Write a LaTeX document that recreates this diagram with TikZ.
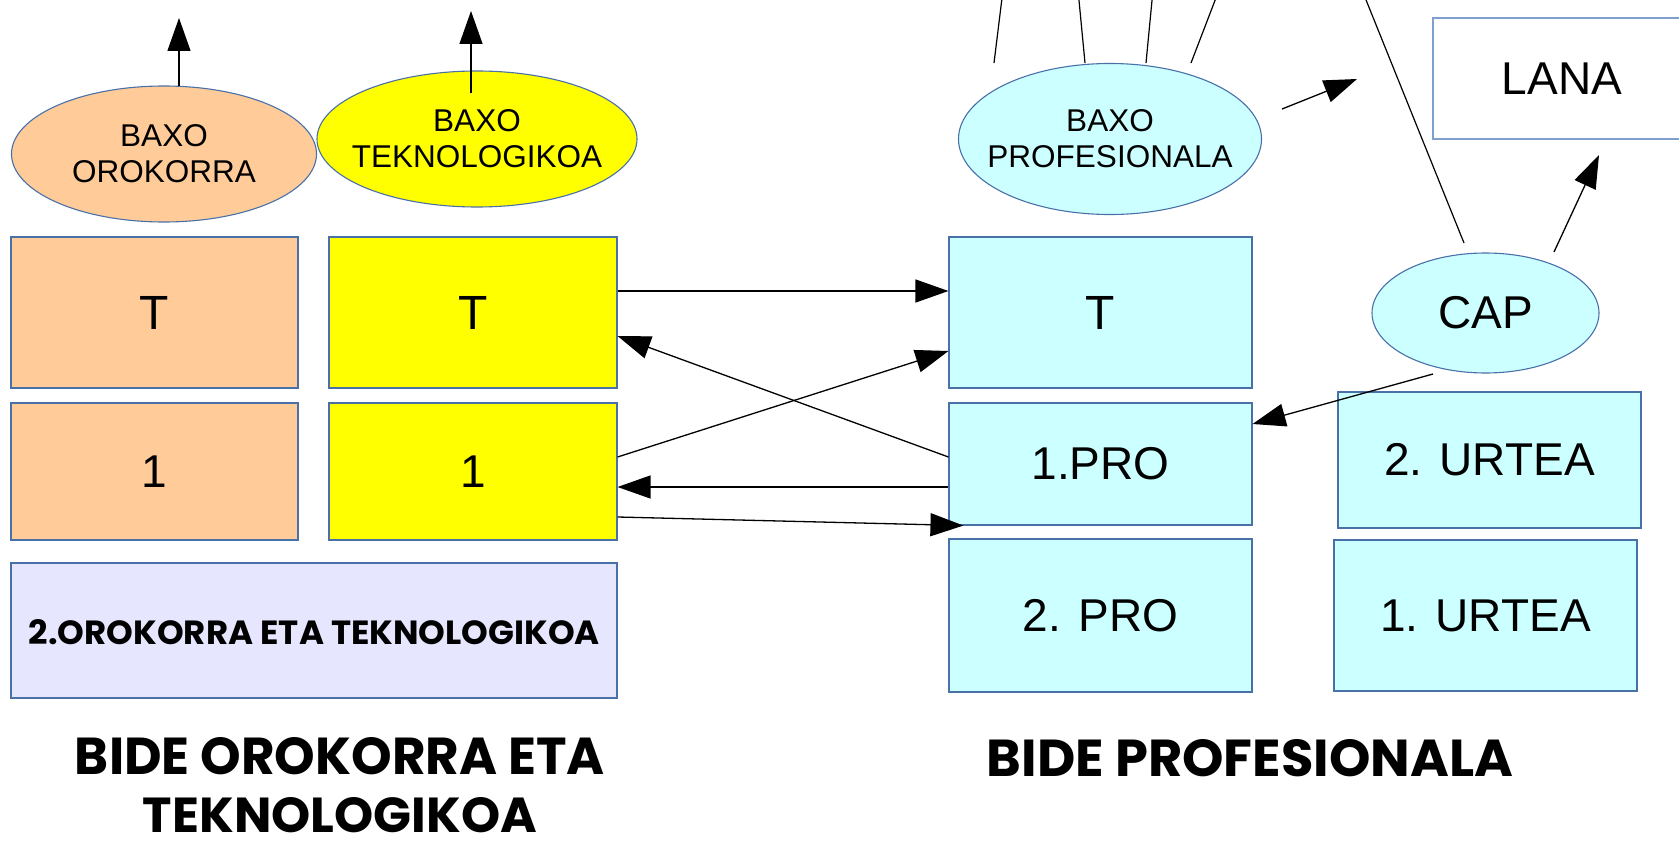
\documentclass[tikz,border=0pt]{standalone}
\usepackage{fontspec}
\usepackage{graphicx}
\setmainfont{Liberation Sans}
\newfontfamily\comicf{Poppins}
\usetikzlibrary{shapes.geometric,arrows.meta}
\definecolor{peach}{HTML}{FFCC99}
\definecolor{yel}{HTML}{FFFF00}
\definecolor{cyanl}{HTML}{CCFFFF}
\definecolor{lav}{HTML}{E6E6FF}
\definecolor{edge}{HTML}{4A70A8}
\definecolor{edgel}{HTML}{7F9FCC}
\begin{document}
\begin{tikzpicture}[x=1pt,y=-1pt,
  box/.style={draw=edge, line width=1.1pt, rectangle, inner sep=0pt},
  ell/.style={draw=edge, line width=1.1pt, ellipse, inner sep=0pt},
  big/.style={font=\fontsize{46}{50}\selectfont},
  bigT/.style={font=\fontsize{48}{50}\selectfont},
  small/.style={font=\fontsize{31.5}{36}\selectfont, align=center},
  conn/.style={line width=1.3pt, -{Triangle[length=33pt,width=23pt]}},
  plainline/.style={line width=1.2pt},
  title/.style={inner sep=0pt},
]
\useasboundingbox (0,0) rectangle (1679,843);
\clip (0,0) rectangle (1679,843);
\fill[white] (0,0) rectangle (1679,843);

% left column
\node[ell, fill=peach, minimum width=305pt, minimum height=136pt] (eo) at (164,154) {};
\node[small] at (eo.center) {BAXO\\OROKORRA};
\node[ell, fill=yel, minimum width=320pt, minimum height=136pt] (et) at (477,139) {};
\node[small] at (et.center) {BAXO\\TEKNOLOGIKOA};

\node[box, fill=peach, minimum width=287pt, minimum height=151pt, bigT] (oT) at (154.5,312.5) {T};
\node[box, fill=peach, minimum width=287pt, minimum height=137pt, big] (o1) at (154.5,471.5) {1};
\node[box, fill=yel, minimum width=288pt, minimum height=151pt, bigT] (tT) at (473,312.5) {T};
\node[box, fill=yel, minimum width=288pt, minimum height=137pt, big] (t1) at (473,471.5) {1};
\node[box, fill=lav, minimum width=606pt, minimum height=135pt] (ot2) at (314,630.5) {};
\node[title] (ot2t) at (314.5,632) {\resizebox{571pt}{25pt}{\comicf\bfseries 2.OROKORRA ETA TEKNOLOGIKOA}};

% right column
\node[ell, fill=cyanl, minimum width=303pt, minimum height=151pt] (ep) at (1110,139) {};
\node[small] at (ep.center) {BAXO\\PROFESIONALA};
\node[box, fill=cyanl, minimum width=303pt, minimum height=151pt, bigT] (pT) at (1100.5,312.5) {T};
\node[box, fill=cyanl, minimum width=303pt, minimum height=122pt, big] (p1) at (1100.5,464) {1.PRO};
\node[box, fill=cyanl, minimum width=303pt, minimum height=153pt, big] (p2) at (1100.5,615.5) {2. PRO};
\node[ell, fill=cyanl, minimum width=227pt, minimum height=120pt, big] (cap) at (1485.5,313) {CAP};
\node[box, fill=cyanl, minimum width=303pt, minimum height=136pt, big] (u2) at (1489.5,460) {2. URTEA};
\node[box, fill=cyanl, minimum width=303pt, minimum height=151pt, big] (u1) at (1485.5,615.5) {1. URTEA};
\node[box, draw=edgel, fill=white, minimum width=258pt, minimum height=121pt] (lana) at (1562,78.5) {};
\node[big] at (1562,79) {LANA};

% titles
\node[title] (t1a) at (340,756) {\resizebox{530pt}{37pt}{\comicf\bfseries BIDE OROKORRA ETA}};
\node[title] (t1b) at (340,815) {\resizebox{394pt}{35pt}{\comicf\bfseries TEKNOLOGIKOA}};
\node[title] (t2a) at (1250,758) {\resizebox{526pt}{37pt}{\comicf\bfseries BIDE PROFESIONALA}};

% free ends
\coordinate (oup) at (179,18);
\coordinate (ostart) at (179,86);
\coordinate (tup) at (471,11);
\coordinate (tstart) at (471,93);
\coordinate (l1a) at (994,63);  \coordinate (l1b) at (1003,-10);
\coordinate (l2a) at (1085,63); \coordinate (l2b) at (1078,-10);
\coordinate (l3a) at (1146,63); \coordinate (l3b) at (1153,-10);
\coordinate (l4a) at (1191,63); \coordinate (l4b) at (1219,-10);
\coordinate (l5a) at (1464,243); \coordinate (l5b) at (1362,-10);
\coordinate (pa) at (1282,109); \coordinate (pb) at (1357,79);
\coordinate (ca) at (1554,252); \coordinate (cb) at (1599,155);
\coordinate (cc) at (1433,374);

\draw[conn] (ostart) -- (oup);
\draw[conn] (tstart) -- (tup);
\draw[plainline] (l1a) -- (l1b);
\draw[plainline] (l2a) -- (l2b);
\draw[plainline] (l3a) -- (l3b);
\draw[plainline] (l4a) -- (l4b);
\draw[plainline] (l5a) -- (l5b);
\draw[conn] (pa) -- (pb);
\draw[conn] (ca) -- (cb);
\draw[conn] (cc) -- ([yshift=40pt]p1.east);

\draw[conn] ([yshift=21.5pt]tT.east) -- ([yshift=21.5pt]pT.west);
\draw[conn] ([yshift=7pt]p1.west) -- ([yshift=-23.5pt]tT.east);
\draw[conn] ([yshift=14.5pt]t1.east) -- ([yshift=-38.5pt]pT.west);
\draw[conn] ([yshift=-23pt]p1.west) -- ([yshift=-15.5pt]t1.east);
\draw[conn] ([yshift=-45.5pt]t1.east) -- ([xshift=15pt]p1.south west);
\end{tikzpicture}
\end{document}
